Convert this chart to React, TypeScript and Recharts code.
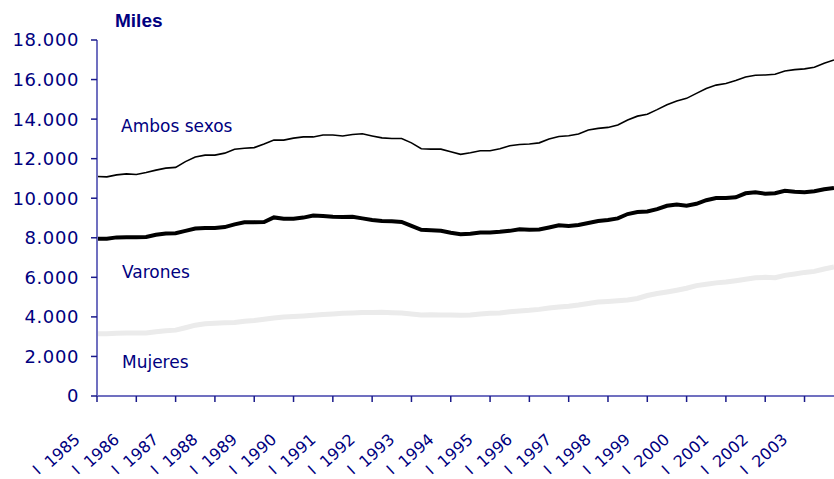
import React from 'react';
import { LineChart, Line, XAxis, YAxis } from 'recharts';

const years = [1985, 1986, 1987, 1988, 1989, 1990, 1991, 1992, 1993, 1994, 1995, 1996, 1997, 1998, 1999, 2000, 2001, 2002, 2003];
const quarters = ['I', 'II', 'III', 'IV'];

// miles de personas, trimestral
const ambos = [
    11100, 11080, 11180, 11230, 11200, 11300, 11420, 11520, 11560, 11850, 12080, 12180,
    12180, 12280, 12480, 12530, 12560, 12740, 12940, 12940, 13040, 13100, 13100, 13200,
    13200, 13150, 13220, 13260, 13150, 13050, 13020, 13020, 12800, 12500, 12480, 12480,
    12350, 12220, 12300, 12400, 12400, 12500, 12650, 12720, 12740, 12800, 13000, 13120,
    13160, 13250, 13450, 13530, 13580, 13700, 13950, 14150, 14250, 14480, 14730, 14920,
    15050, 15300, 15550, 15720, 15800, 15950, 16130, 16220, 16230, 16270, 16430, 16500,
    16540, 16620, 16830, 16990,
];
const varones = [
    7950, 7950, 8020, 8030, 8030, 8040, 8150, 8220, 8230, 8350, 8470, 8500,
    8500, 8540, 8680, 8780, 8790, 8800, 9030, 8960, 8960, 9020, 9130, 9100,
    9060, 9050, 9060, 8980, 8900, 8850, 8830, 8800, 8600, 8400, 8380, 8350,
    8250, 8180, 8200, 8270, 8270, 8300, 8350, 8430, 8400, 8420, 8520, 8630,
    8600, 8650, 8750, 8850, 8900, 8980, 9200, 9300, 9330, 9450, 9620, 9680,
    9620, 9720, 9900, 10010, 10010, 10050, 10250, 10300, 10230, 10250, 10380, 10330,
    10300, 10350, 10450, 10520,
];
const mujeres = [
    3150, 3150, 3170, 3180, 3190, 3190, 3250, 3300, 3330, 3450, 3580, 3650,
    3680, 3700, 3720, 3780, 3820, 3880, 3940, 3990, 4020, 4050, 4080, 4120,
    4150, 4180, 4200, 4220, 4220, 4230, 4210, 4200, 4150, 4100, 4110, 4100,
    4090, 4080, 4100, 4150, 4180, 4200, 4260, 4300, 4330, 4380, 4450, 4500,
    4540, 4600, 4680, 4750, 4780, 4820, 4850, 4930, 5080, 5180, 5260, 5350,
    5450, 5580, 5650, 5720, 5760, 5830, 5900, 5980, 6000, 5980, 6100, 6170,
    6250, 6300, 6420, 6520,
];
const yTicks = [0, 2000, 4000, 6000, 8000, 10000, 12000, 14000, 16000, 18000];

const data = years.flatMap((yr, yi) =>
    quarters.map((q, qi) => {
        const i = yi * 4 + qi;
        return { cat: `${q} ${yr}`, ambos: ambos[i], varones: varones[i], mujeres: mujeres[i] };
    })
);

const NAVY = '#000080';
const FONT = '"DejaVu Sans", Verdana, sans-serif';

const fmt = (v: number) => (v === 0 ? '0' : v.toLocaleString('de-DE'));

const XTick = (props: any) => {
    const { x, y, payload } = props;
    const [q, yr] = String(payload.value).split(' ');
    return (
        <g transform={`translate(${x - 16},${y + 37}) rotate(-42)`}>
            <text x={0} y={0} textAnchor="end" fill={NAVY} fontSize={16} fontFamily={FONT}>{yr}</text>
            <text x={-50} y={-3} textAnchor="end" fill={NAVY} fontSize={15} fontFamily={FONT}>{q}</text>
        </g>
    );
};

export default function App() {
    return (
        <div style={{ position: 'absolute', left: 0, top: 0, width: 834, height: 479, background: '#fff' }}>
            <LineChart width={834} height={479} data={data} margin={{ top: 40, right: 0, bottom: 0, left: 0 }}>
                <XAxis
                    dataKey="cat"
                    interval={3}
                    height={83}
                    tickSize={6}
                    axisLine={{ stroke: '#7070c0', strokeWidth: 2 }}
                    tickLine={{ stroke: '#1a1a8a', strokeWidth: 1.5 }}
                    tick={<XTick />}
                />
                <YAxis
                    domain={[0, 18000]}
                    ticks={yTicks}
                    width={97}
                    tickSize={6}
                    tickMargin={12}
                    tickFormatter={fmt}
                    axisLine={{ stroke: '#7070c0', strokeWidth: 2 }}
                    tickLine={{ stroke: '#1a1a8a', strokeWidth: 1.5 }}
                    tick={{ fill: NAVY, fontSize: 18, fontFamily: FONT, letterSpacing: 0.6 }}
                />
                <Line dataKey="mujeres" stroke="#ebebeb" strokeWidth={5} dot={false} isAnimationActive={false} />
                <Line dataKey="varones" stroke="#000" strokeWidth={4} dot={false} isAnimationActive={false} />
                <Line dataKey="ambos" stroke="#000" strokeWidth={1.6} dot={false} isAnimationActive={false} />
            </LineChart>
            <svg width={834} height={479} style={{ position: 'absolute', left: 0, top: 0, pointerEvents: 'none' }}>
                <text x={115} y={27} fill={NAVY} fontSize={19} fontWeight="bold" fontFamily='"Liberation Sans", Arial, sans-serif'>Miles</text>
                <text x={121} y={132} fill={NAVY} fontSize={17} fontFamily={FONT}>Ambos sexos</text>
                <text x={122} y={278} fill={NAVY} fontSize={17} fontFamily={FONT}>Varones</text>
                <text x={122} y={368} fill={NAVY} fontSize={17} fontFamily={FONT}>Mujeres</text>
            </svg>
        </div>
    );
}
